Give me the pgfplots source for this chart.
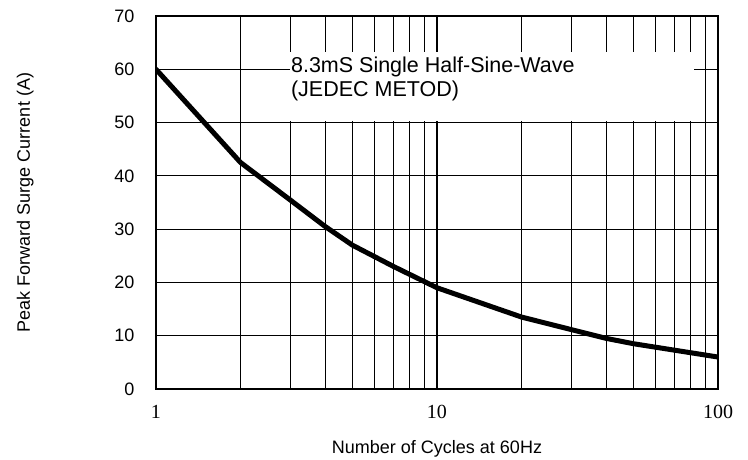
\documentclass[border=0pt]{standalone}
\usepackage{fontspec}
\setmainfont{Liberation Sans}
\newfontfamily\serifx{Liberation Serif}
\usepackage{pgfplots}
\pgfplotsset{compat=1.18}
\begin{document}
\begin{tikzpicture}
\useasboundingbox (-156pt,-70pt) rectangle (592pt,389pt);
\begin{axis}[
  at={(0,0)}, anchor=south west,
  scale only axis, width=562pt, height=373pt,
  xmode=log, xmin=1, xmax=100, ymin=0, ymax=70,
  xtick={1,10,100}, xticklabels={1,10,100},
  ytick={0,10,...,70},
  minor xtick={2,3,4,5,6,7,8,9,20,30,40,50,60,70,80,90},
  xmajorgrids, xminorgrids, ymajorgrids,
  grid style={black, line width=1.1pt},
  minor grid style={black, line width=1.1pt},
  major tick length=0pt, minor tick length=0pt,
  axis line style={black, line width=2pt},
  /pgf/number format/assume math mode=true,
  yticklabel style={font=\fontsize{18}{20}\selectfont, xshift=-18pt},
  xticklabel style={font=\serifx\fontsize{20}{24}\selectfont, yshift=-13pt},
  xlabel={Number of Cycles at 60Hz},
  ylabel={Peak Forward Surge Current (A)},
  xlabel style={font=\fontsize{18}{20}\selectfont, at={(axis description cs:0.5,0)}, anchor=base, yshift=-64pt},
  ylabel style={font=\fontsize{18}{20}\selectfont, at={(axis description cs:0,0.5)}, anchor=base, yshift=126pt},
]
\fill[white] (axis cs:3,50.25) rectangle (axis cs:82,63.3);
\node[anchor=base west, inner sep=0pt, font=\fontsize{21.5}{24}\selectfont] at (axis cs:3.02,59.4) {8.3mS Single Half-Sine-Wave};
\node[anchor=base west, inner sep=0pt, font=\fontsize{21.5}{24}\selectfont] at (axis cs:3.02,54.9) {(JEDEC METOD)};
\addplot[black, line width=5pt, line join=round, line cap=round] coordinates {
(1,60) (2,42.5) (3,35.5) (4,30.5) (5,27) (7,23) (10,19) (20,13.5) (40,9.5) (50,8.5) (100,6)
};
\end{axis}
\end{tikzpicture}
\end{document}
